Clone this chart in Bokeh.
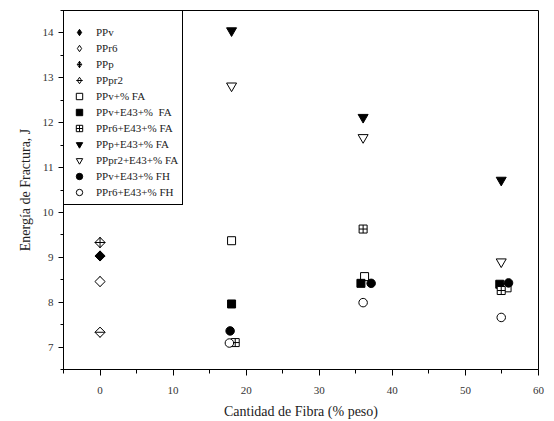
import math
from bokeh.plotting import figure
from bokeh.models import FixedTicker, Range1d, Legend, LegendItem
from bokeh.embed import file_html
from bokeh.resources import INLINE

# ---- data ----
x_ppv = [0]; y_ppv = [9.03]
x_ppr6 = [0]; y_ppr6 = [8.46]
x_ppp = [0]; y_ppp = [9.33]
x_pppr2 = [0]; y_pppr2 = [7.33]
x_ppv_fa = [18, 36.2, 55.7]; y_ppv_fa = [9.37, 8.57, 8.32]
x_ppv_e43_fa = [18, 35.7, 54.7]; y_ppv_e43_fa = [7.96, 8.42, 8.40]
x_ppr6_e43_fa = [18.5, 36, 54.9]; y_ppr6_e43_fa = [7.10, 9.63, 8.26]
x_ppp_e43_fa = [18, 36, 54.9]; y_ppp_e43_fa = [14.05, 12.12, 10.72]
x_pppr2_e43_fa = [18, 36, 54.9]; y_pppr2_e43_fa = [12.82, 11.67, 8.90]
x_ppv_e43_fh = [17.8, 37.1, 55.9]; y_ppv_e43_fh = [7.36, 8.42, 8.43]
x_ppr6_e43_fh = [17.7, 36, 54.9]; y_ppr6_e43_fh = [7.09, 7.99, 7.66]

x_ticks = [0, 10, 20, 30, 40, 50, 60]
x_minor = [-5, 5, 15, 25, 35, 45, 55]
y_ticks = [7, 8, 9, 10, 11, 12, 13, 14]
y_minor = [6.5, 7.5, 8.5, 9.5, 10.5, 11.5, 12.5, 13.5, 14.5]

FONT = "Liberation Serif"

p = figure(width=554, height=421, x_range=Range1d(-5, 60), y_range=Range1d(6.5, 14.5),
           output_backend="svg", toolbar_location=None,
           min_border_left=63, min_border_right=16, min_border_top=10, min_border_bottom=47)
p.grid.visible = False
p.outline_line_color = "black"
p.outline_line_alpha = 1.0
p.background_fill_color = "white"

p.xaxis.ticker = FixedTicker(ticks=x_ticks, minor_ticks=x_minor)
p.yaxis.ticker = FixedTicker(ticks=y_ticks, minor_ticks=y_minor)
for ax in (p.xaxis[0], p.yaxis[0]):
    ax.axis_line_color = "black"
    ax.major_tick_line_color = "black"
    ax.minor_tick_line_color = "black"
    ax.major_tick_in = 0
    ax.minor_tick_in = 0
    ax.major_label_text_font = FONT
    ax.major_label_text_font_size = "11px"
    ax.major_label_text_color = "#333333"
    ax.axis_label_text_font = FONT
    ax.axis_label_text_font_size = "14px"
    ax.axis_label_text_font_style = "normal"
    ax.axis_label_text_color = "#222222"

p.xaxis.major_tick_out = 6
p.xaxis.minor_tick_out = 4
p.xaxis.major_label_standoff = 11
p.xaxis.axis_label_standoff = 7
p.yaxis.major_tick_out = 5
p.yaxis.minor_tick_out = 3
p.yaxis.major_label_standoff = 5
p.yaxis.axis_label_standoff = 7
p.xaxis.axis_label = "Cantidad de Fibra (% peso)"
p.yaxis.axis_label = "Energía de Fractura, J"

kw = dict(line_color="black", line_width=1)
rot = math.pi / 4
DS = 10     # legend diamond size
SQ = 7.2    # rotated-square size (diagonal ~10.2) used in the plot

# legend glyphs for the diamonds (drawn first, hidden under the rotated squares)
l1 = p.scatter(x_ppv, y_ppv, marker="diamond", size=DS, fill_color="black", **kw)
l2 = p.scatter(x_ppr6, y_ppr6, marker="diamond", size=DS, fill_color="white", **kw)
l3 = p.scatter(x_ppp, y_ppp, marker="diamond_cross", size=DS, fill_color="white", **kw)
l4a = p.scatter(x_pppr2, y_pppr2, marker="diamond", size=DS, fill_color="white", **kw)
l4b = p.scatter(x_pppr2, y_pppr2, marker="dash", size=6, **kw)

# diamonds as seen in the plot: rotated squares
p.scatter(x_ppv, y_ppv, marker="square", angle=rot, size=SQ, fill_color="black", **kw)
p.scatter(x_ppr6, y_ppr6, marker="square", angle=rot, size=SQ, fill_color="white", **kw)
p.scatter(x_ppp, y_ppp, marker="square_x", angle=rot, size=SQ, fill_color="white", **kw)
p.scatter(x_pppr2, y_pppr2, marker="square", angle=rot, size=SQ, fill_color="white", **kw)
p.scatter(x_pppr2, y_pppr2, marker="dash", size=10, **kw)

r5 = p.scatter(x_ppv_fa, y_ppv_fa, marker="square", size=8, fill_color="white", **kw)
r6 = p.scatter(x_ppv_e43_fa, y_ppv_e43_fa, marker="square", size=8, fill_color="black", **kw)
r7 = p.scatter(x_ppr6_e43_fa, y_ppr6_e43_fa, marker="square_cross", size=8, fill_color="white", **kw)
r8 = p.scatter(x_ppp_e43_fa, y_ppp_e43_fa, marker="inverted_triangle", size=10, fill_color="black", **kw)
r9 = p.scatter(x_pppr2_e43_fa, y_pppr2_e43_fa, marker="inverted_triangle", size=10, fill_color="white", **kw)
r10 = p.scatter(x_ppv_e43_fh, y_ppv_e43_fh, marker="circle", size=8.5, fill_color="black", **kw)
r11 = p.scatter(x_ppr6_e43_fh, y_ppr6_e43_fh, marker="circle", size=8.5, fill_color="white", **kw)

items = [
    LegendItem(label="PPv", renderers=[l1]),
    LegendItem(label="PPr6", renderers=[l2]),
    LegendItem(label="PPp", renderers=[l3]),
    LegendItem(label="PPpr2", renderers=[l4a, l4b]),
    LegendItem(label="PPv+% FA", renderers=[r5]),
    LegendItem(label="PPv+E43+%  FA", renderers=[r6]),
    LegendItem(label="PPr6+E43+% FA", renderers=[r7]),
    LegendItem(label="PPp+E43+% FA", renderers=[r8]),
    LegendItem(label="PPpr2+E43+% FA", renderers=[r9]),
    LegendItem(label="PPv+E43+% FH", renderers=[r10]),
    LegendItem(label="PPr6+E43+% FH", renderers=[r11]),
]
legend = Legend(items=items, location="top_left", margin=0, padding=4,
                spacing=0, glyph_height=16, glyph_width=22, label_height=16,
                label_standoff=6, label_text_font=FONT, label_text_font_size="11px",
                label_text_color="#222222",
                border_line_color="black", border_line_width=1, border_line_alpha=1.0,
                background_fill_alpha=1.0, title=" ", title_text_font_size="8px",
                title_standoff=0)
p.add_layout(legend)

open("out.html", "w").write(file_html(p, INLINE))
